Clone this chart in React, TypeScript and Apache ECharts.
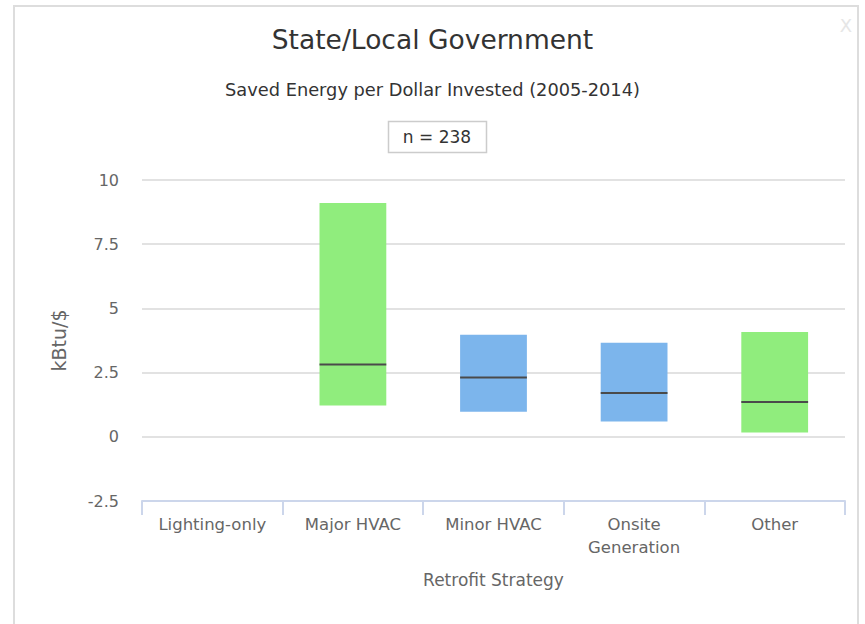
import React, { useEffect, useRef } from "react";
import * as echarts from "echarts";

const categories = ["Lighting-only", "Major HVAC", "Minor HVAC", "Onsite\nGeneration", "Other"];
const lowValues = [null, 1.22, 0.98, 0.6, 0.17];
const medianValues = [null, 2.82, 2.31, 1.71, 1.36];
const highValues = [null, 9.1, 3.97, 3.66, 4.08];
const barColors = ["#90ED7D", "#90ED7D", "#7CB5EC", "#7CB5EC", "#90ED7D"];
const yTicks = { min: -2.5, max: 10, interval: 2.5 };
const sampleSize = 238;

const FONT = "'DejaVu Sans', sans-serif";

export default function App() {
  const ref = useRef<HTMLDivElement>(null);
  useEffect(() => {
    if (!ref.current) return;
    const chart = echarts.init(ref.current, null, { renderer: "svg" });
    const data = categories
      .map((c, i) => [i, lowValues[i], medianValues[i], highValues[i]])
      .filter((d) => d[1] !== null);
    chart.setOption({
      animation: false,
      backgroundColor: "#ffffff",
      grid: { left: 142, right: 20, top: 180, bottom: 123, containLabel: false },
      title: [
        {
          text: "State/Local Government",
          left: "center",
          top: 21,
          textStyle: { fontFamily: FONT, fontSize: 26.5, fontWeight: "normal", color: "#333333" },
        },
        {
          text: "Saved Energy per Dollar Invested (2005-2014)",
          left: "center",
          top: 75,
          textStyle: { fontFamily: FONT, fontSize: 17.8, fontWeight: "normal", color: "#333333" },
        },
      ],
      graphic: [
        {
          type: "rect",
          shape: { x: 14, y: 6, width: 844, height: 640 },
          style: { fill: "none", stroke: "#dddddd", lineWidth: 2 },
          silent: true,
        },
        {
          type: "rect",
          shape: { x: 388.5, y: 121.5, width: 98, height: 31 },
          style: { fill: "#ffffff", stroke: "#cccccc", lineWidth: 1.5 },
        },
        {
          type: "text",
          x: 437,
          y: 137,
          style: {
            text: "n = " + sampleSize,
            fontFamily: FONT,
            fontSize: 17,
            fill: "#333333",
            align: "center",
            verticalAlign: "middle",
          },
        },
        {
          type: "text",
          x: 846,
          y: 25,
          style: {
            text: "X",
            fontFamily: FONT,
            fontSize: 18,
            fill: "#e6e6e6",
            align: "center",
            verticalAlign: "middle",
          },
        },
      ],
      xAxis: {
        type: "category",
        data: categories,
        name: "Retrofit Strategy",
        nameLocation: "middle",
        nameGap: 70,
        nameTextStyle: { fontFamily: FONT, fontSize: 17, color: "#666666" },
        axisLine: { onZero: false, lineStyle: { color: "#ccd6eb", width: 2 } },
        axisTick: { show: true, length: 14, lineStyle: { color: "#ccd6eb", width: 2 } },
        axisLabel: {
          fontFamily: FONT,
          fontSize: 16.5,
          color: "#666666",
          margin: 12,
          lineHeight: 23,
          interval: 0,
        },
        splitLine: { show: false },
      },
      yAxis: {
        type: "value",
        min: yTicks.min,
        max: yTicks.max,
        interval: yTicks.interval,
        name: "kBtu/$",
        nameLocation: "middle",
        nameGap: 74,
        nameTextStyle: { fontFamily: FONT, fontSize: 19, color: "#666666" },
        axisLine: { show: false },
        axisTick: { show: false },
        axisLabel: { fontFamily: FONT, fontSize: 16, color: "#666666", margin: 23 },
        splitLine: { lineStyle: { color: "#d8d8d8", width: 1.5 } },
      },
      series: [
        {
          type: "custom",
          data,
          encode: { x: 0, y: [1, 2, 3] },
          renderItem: (params: any, api: any) => {
            const idx = api.value(0);
            const low = api.coord([idx, api.value(1)]);
            const med = api.coord([idx, api.value(2)]);
            const high = api.coord([idx, api.value(3)]);
            const band = api.size([1, 0])[0];
            const w = band * 0.475;
            const x0 = low[0] - w / 2;
            return {
              type: "group",
              children: [
                {
                  type: "rect",
                  shape: { x: x0, y: high[1], width: w, height: low[1] - high[1] },
                  style: { fill: barColors[idx] },
                },
                {
                  type: "line",
                  shape: { x1: x0, y1: med[1], x2: x0 + w, y2: med[1] },
                  style: { stroke: "#4a4a4a", lineWidth: 2 },
                },
              ],
            };
          },
        },
      ],
    });
    return () => chart.dispose();
  }, []);
  return <div ref={ref} style={{ width: 865, height: 624, position: "absolute", left: 0, top: 0 }} />;
}
